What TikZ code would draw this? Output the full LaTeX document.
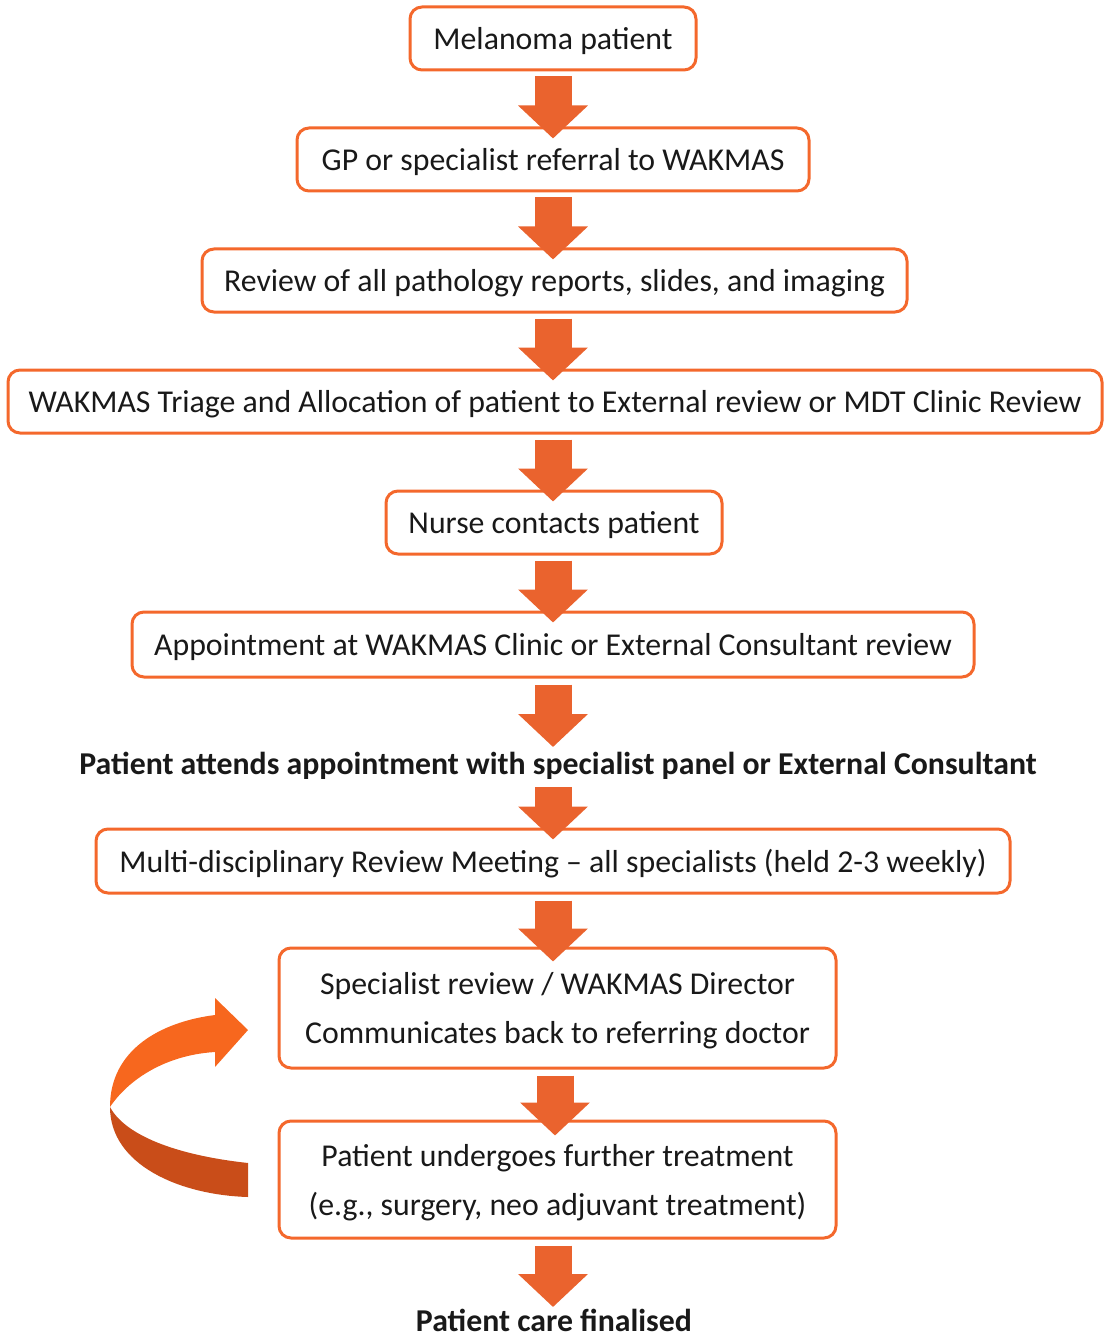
\documentclass[tikz,border=0pt]{standalone}
\usepackage{fontspec}
\setmainfont{Carlito}
\usetikzlibrary{arrows.meta,calc}
\definecolor{boxc}{RGB}{244,104,44}
\definecolor{arrc}{RGB}{234,99,46}
\definecolor{curvl}{RGB}{247,103,30}
\definecolor{curvd}{RGB}{201,77,25}
\definecolor{txt}{RGB}{25,25,25}
\tikzset{
  stepbox/.style={draw=boxc, line width=3pt, rounded corners=12pt, fill=white,
    inner sep=0pt, text depth=0pt, text=txt, font=\fontsize{31.8}{49}\selectfont, align=center},
  boldtext/.style={inner sep=0pt, text=txt, font=\fontsize{31.8}{38}\selectfont\bfseries},
  blockarrow/.style={draw=arrc, line width=37pt, -{Triangle[width=68pt,length=33pt]}}
}
\begin{document}
\begin{tikzpicture}[x=1pt,y=-1pt]
\useasboundingbox (0,0) rectangle (1103,1337);
\coordinate (axis) at (553,0);
\node[stepbox, minimum width=286pt, minimum height=63pt] (b1) at (553,38.5) {Melanoma patient};
\node[stepbox, minimum width=512pt, minimum height=63pt] (b2) at (553,159.5) {GP or specialist referral to WAKMAS};
\node[stepbox, minimum width=705pt, minimum height=63pt] (b3) at (554.5,280.5) {Review of all pathology reports, slides, and imaging};
\node[stepbox, minimum width=1094pt, minimum height=63pt] (b4) at (555,401.5) {WAKMAS Triage and Allocation of patient to External review or MDT Clinic Review};
\node[stepbox, minimum width=336pt, minimum height=63pt] (b5) at (554,522.5) {Nurse contacts patient};
\node[stepbox, minimum width=842pt, minimum height=65pt] (b6) at (553,644.5) {Appointment at WAKMAS Clinic or External Consultant review};
\node[boldtext] (t7) at (558,766) {Patient attends appointment with specialist panel or External Consultant};
\node[stepbox, minimum width=914pt, minimum height=64pt] (b8) at (553,861) {Multi-disciplinary Review Meeting -- all specialists (held 2-3 weekly)};
\node[stepbox, minimum width=557pt, minimum height=120pt] (b9) at (557.5,1008) {Specialist review / WAKMAS Director\\Communicates back to referring doctor};
\node[stepbox, minimum width=557pt, minimum height=117pt] (b10) at (557.5,1179.5) {Patient undergoes further treatment\\(e.g., surgery, neo adjuvant treatment)};
\node[boldtext] (t11) at (554,1320) {Patient care finalised};
% block arrows
\draw[blockarrow] ($(b1.south -| axis)+(0,5)$) -- ($(b2.north -| axis)+(0,12)$);
\draw[blockarrow] ($(b2.south -| axis)+(0,5)$) -- ($(b3.north -| axis)+(0,12)$);
\draw[blockarrow] ($(b3.south -| axis)+(0,5)$) -- ($(b4.north -| axis)+(0,12)$);
\draw[blockarrow] ($(b4.south -| axis)+(0,5)$) -- ($(b5.north -| axis)+(0,12)$);
\draw[blockarrow] ($(b5.south -| axis)+(0,5)$) -- ($(b6.north -| axis)+(0,12)$);
\draw[blockarrow] ($(b6.south -| axis)+(0,6)$) -- ($(t7.center -| axis)+(0,-19)$);
\draw[blockarrow] ($(t7.center -| axis)+(0,21)$) -- ($(b8.north -| axis)+(0,12)$);
\draw[blockarrow] ($(b8.south -| axis)+(0,6)$) -- ($(b9.north -| axis)+(0,15)$);
\draw[blockarrow] ($(b9.south -| axis)+(2,6)$) -- ($(b10.north -| axis)+(2,16)$);
\draw[blockarrow] ($(b10.south -| axis)+(0,6)$) -- ($(t11.center -| axis)+(0,-13)$);
% curved loop arrow
\fill[curvd] (110,1107) .. controls (110,1165) and (180,1195) .. (248,1197)
  -- (248,1163) .. controls (175,1155) and (125,1135) .. (110,1107) -- cycle;
\fill[curvl] (248,1030) -- (215,998) -- (215,1015)
  .. controls (160,1022) and (110,1050) .. (110,1107)
  .. controls (128,1080) and (165,1055) .. (215,1052) -- (215,1067) -- cycle;
\end{tikzpicture}
\end{document}
